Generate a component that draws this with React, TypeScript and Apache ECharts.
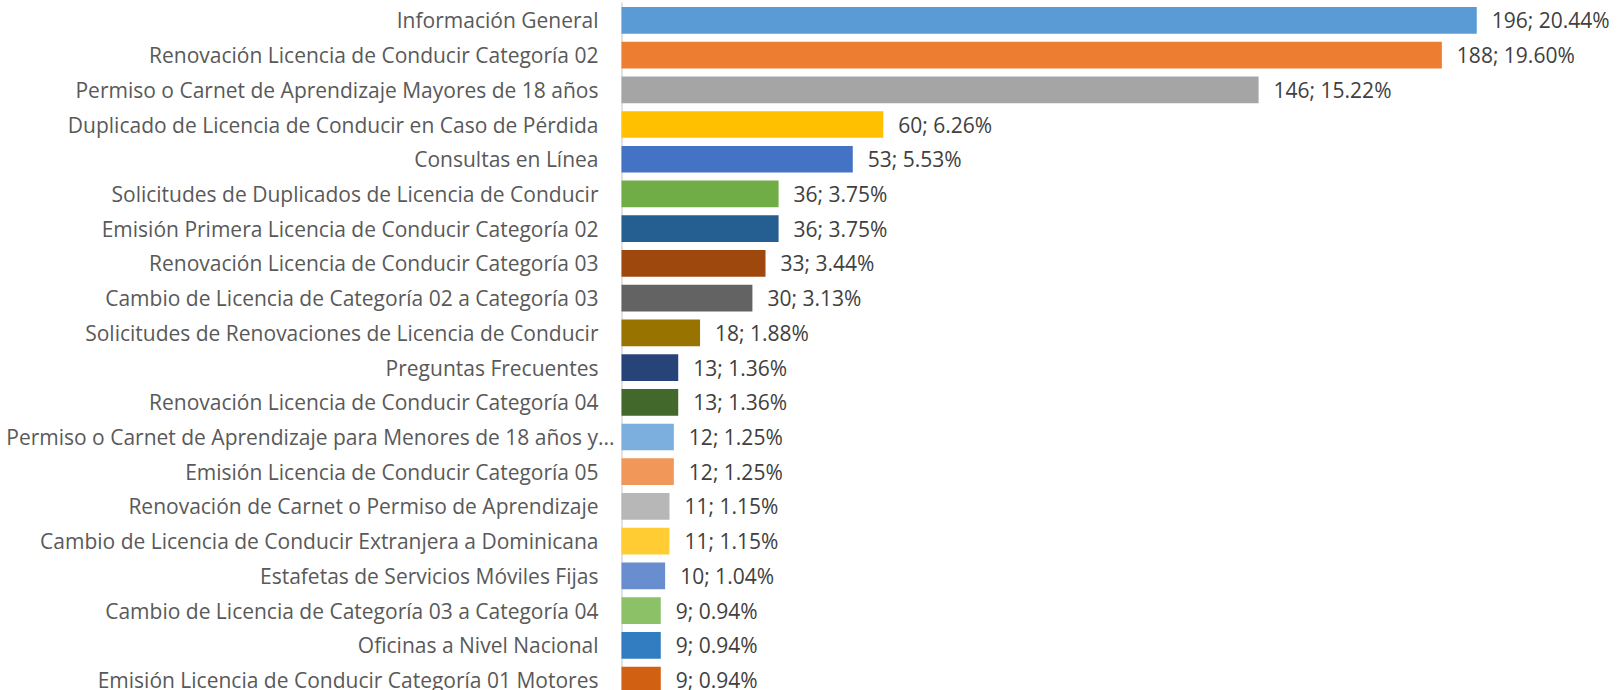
import React, { useEffect, useRef } from "react";
import * as echarts from "echarts";

const categories = [
  "Información General",
  "Renovación Licencia de Conducir Categoría 02",
  "Permiso o Carnet de Aprendizaje Mayores de 18 años",
  "Duplicado de Licencia de Conducir en Caso de Pérdida",
  "Consultas en Línea",
  "Solicitudes de Duplicados de Licencia de Conducir",
  "Emisión Primera Licencia de Conducir Categoría 02",
  "Renovación Licencia de Conducir Categoría 03",
  "Cambio de Licencia de Categoría 02 a Categoría 03",
  "Solicitudes de Renovaciones de Licencia de Conducir",
  "Preguntas Frecuentes",
  "Renovación Licencia de Conducir Categoría 04",
  "Permiso o Carnet de Aprendizaje para Menores de 18 años y...",
  "Emisión Licencia de Conducir Categoría 05",
  "Renovación de Carnet o Permiso de Aprendizaje",
  "Cambio de Licencia de Conducir Extranjera a Dominicana",
  "Estafetas de Servicios Móviles Fijas",
  "Cambio de Licencia de Categoría 03 a Categoría 04",
  "Oficinas a Nivel Nacional",
  "Emisión Licencia de Conducir Categoría 01 Motores",
];

const counts = [196, 188, 146, 60, 53, 36, 36, 33, 30, 18, 13, 13, 12, 12, 11, 11, 10, 9, 9, 9];

const percents = [
  "20.44%", "19.60%", "15.22%", "6.26%", "5.53%", "3.75%", "3.75%", "3.44%", "3.13%", "1.88%",
  "1.36%", "1.36%", "1.25%", "1.25%", "1.15%", "1.15%", "1.04%", "0.94%", "0.94%", "0.94%",
];

const colors = [
  "#5B9BD5", "#ED7D31", "#A5A5A5", "#FFC000", "#4472C4", "#70AD47", "#255E91", "#9E480E",
  "#636363", "#997300", "#264478", "#43682B", "#7CAFDD", "#F1975A", "#B7B7B7", "#FFCD33",
  "#698ED0", "#8CC168", "#327DC2", "#D26012",
];

const FONT = "'Open Sans', sans-serif";

export default function App() {
  const ref = useRef<HTMLDivElement>(null);
  useEffect(() => {
    if (!ref.current) return;
    const chart = echarts.init(ref.current, null, { renderer: "svg" });
    chart.setOption({
      animation: false,
      backgroundColor: "#ffffff",
      grid: {
        left: 621.5,
        top: 3,
        width: 960,
        height: 694.4,
        containLabel: false,
        outerBoundsMode: "none",
      },
      xAxis: { type: "value", min: 0, max: 220, show: false },
      yAxis: {
        type: "category",
        inverse: true,
        data: categories.map((c) =>
          c.endsWith("...") ? { value: c, textStyle: { padding: [0, -16, 0, 0] } } : c
        ),
        axisLine: { show: true, lineStyle: { color: "#D9D9D9", width: 1.5 } },
        axisTick: { show: false },
        axisLabel: {
          margin: 23,
          fontFamily: FONT,
          fontSize: 21,
          color: "#595959",
          interval: 0,
        },
      },
      series: [
        {
          type: "bar",
          barWidth: 26.7,
          data: counts.map((v, i) => ({ value: v, itemStyle: { color: colors[i] } })),
          label: {
            show: true,
            position: "right",
            distance: 15,
            fontFamily: FONT,
            fontSize: 21,
            color: "#404040",
            formatter: (p: any) => `${counts[p.dataIndex]}; ${percents[p.dataIndex]}`,
          },
        },
      ],
    });
    return () => chart.dispose();
  }, []);
  return (
    <div
      ref={ref}
      style={{ position: "absolute", left: 0, top: 0, width: 1617, height: 690 }}
    />
  );
}
